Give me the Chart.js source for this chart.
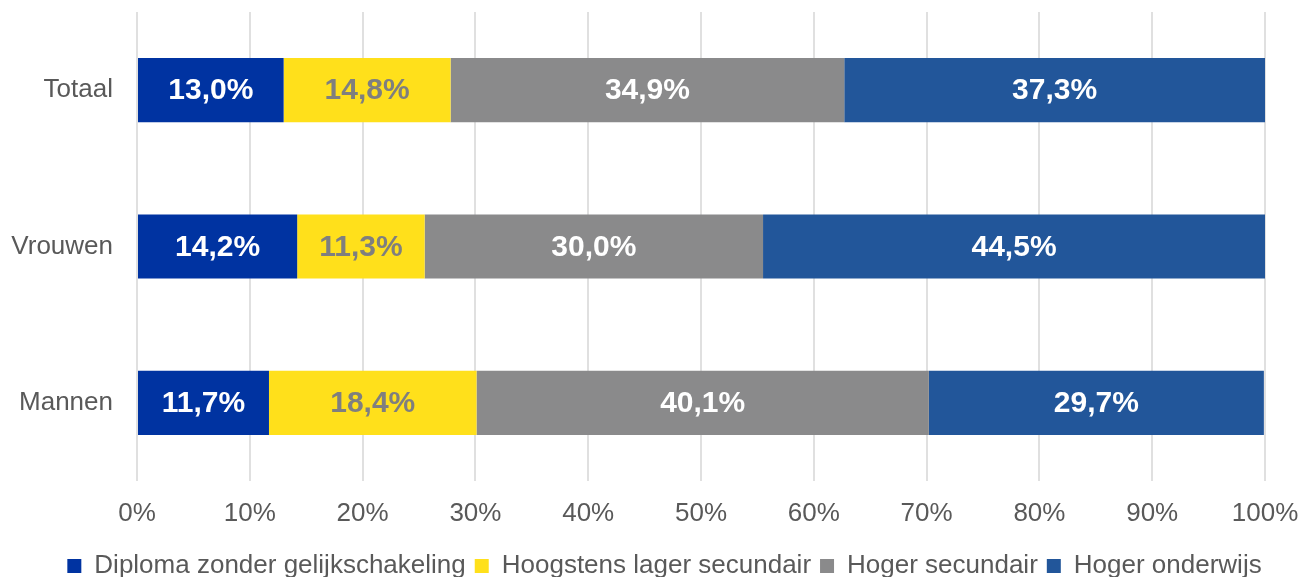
<!DOCTYPE html>
<html>
<head>
<meta charset="utf-8">
<script src="https://cdn.jsdelivr.net/npm/chart.js@4.4.1/dist/chart.umd.min.js"></script>
<style>
  html, body { margin: 0; padding: 0; overflow: hidden; background: #fff; }
  #wrap { width: 1329px; height: 589px; position: relative; }
</style>
</head>
<body>
<div id="wrap"><canvas id="eduChart"></canvas></div>
<script>
// categories and series (percentages)
const categories = ['Totaal', 'Vrouwen', 'Mannen'];
const seriesNames = ['Diploma zonder gelijkschakeling', 'Hoogstens lager secundair', 'Hoger secundair', 'Hoger onderwijs'];
const diplomaZonder = [13.0, 14.2, 11.7];
const lagerSecundair = [14.8, 11.3, 18.4];
const hogerSecundair = [34.9, 30.0, 40.1];
const hogerOnderwijs = [37.3, 44.5, 29.7];
const xTicks = [0, 10, 20, 30, 40, 50, 60, 70, 80, 90, 100];

const colors = ['#0033a1', '#ffe01b', '#8a8a8b', '#22569a'];
const labelColors = ['#ffffff', '#7f7f7f', '#ffffff', '#ffffff'];
const FONT = '"Liberation Sans", Arial, sans-serif';

// draws the value inside each bar segment
const barLabels = {
  id: 'barLabels',
  afterDatasetsDraw(chart) {
    const ctx = chart.ctx;
    ctx.save();
    ctx.font = 'bold 30px ' + FONT;
    ctx.textAlign = 'center';
    ctx.textBaseline = 'middle';
    chart.data.datasets.forEach((ds, i) => {
      const meta = chart.getDatasetMeta(i);
      meta.data.forEach((bar, j) => {
        const v = ds.data[j];
        ctx.fillStyle = labelColors[i];
        ctx.fillText(v.toFixed(1).replace('.', ',') + '%', (bar.x + bar.base) / 2, bar.y + 1);
      });
    });
    ctx.restore();
  }
};

const datasets = [diplomaZonder, lagerSecundair, hogerSecundair, hogerOnderwijs].map((vals, i) => ({
  label: seriesNames[i],
  data: vals,
  backgroundColor: colors[i],
  borderWidth: 0,
  categoryPercentage: 1,
  barPercentage: 0.41
}));

new Chart(document.getElementById('eduChart'), {
  type: 'bar',
  data: { labels: categories, datasets: datasets },
  plugins: [barLabels],
  options: {
    indexAxis: 'y',
    responsive: true,
    maintainAspectRatio: false,
    animation: false,
    layout: { padding: { top: 12, left: 0, right: 0, bottom: 0 } },
    scales: {
      x: {
        stacked: true,
        min: 0,
        max: 100,
        afterBuildTicks(scale) {
          scale.ticks = xTicks.map(v => ({ value: v }));
        },
        afterFit(scale) {
          scale.height = 63;
          scale.paddingRight = 64;
        },
        grid: { color: '#e0e0e0', lineWidth: 2, drawTicks: false },
        border: { display: false },
        ticks: {
          padding: 17,
          color: '#595959',
          font: { family: FONT, size: 26 },
          callback: v => v + '%'
        }
      },
      y: {
        stacked: true,
        afterFit(scale) {
          scale.width = 137;
          scale.paddingTop = 0;
          scale.paddingBottom = 0;
        },
        grid: { display: false, drawTicks: false },
        border: { display: false },
        ticks: {
          padding: 24,
          color: '#595959',
          font: { family: FONT, size: 26 }
        }
      }
    },
    plugins: {
      legend: {
        position: 'bottom',
        labels: {
          boxWidth: 14,
          boxHeight: 14,
          padding: 9,
          color: '#595959',
          font: { family: FONT, size: 26 }
        }
      },
      tooltip: { enabled: false }
    }
  }
});
</script>
</body>
</html>
